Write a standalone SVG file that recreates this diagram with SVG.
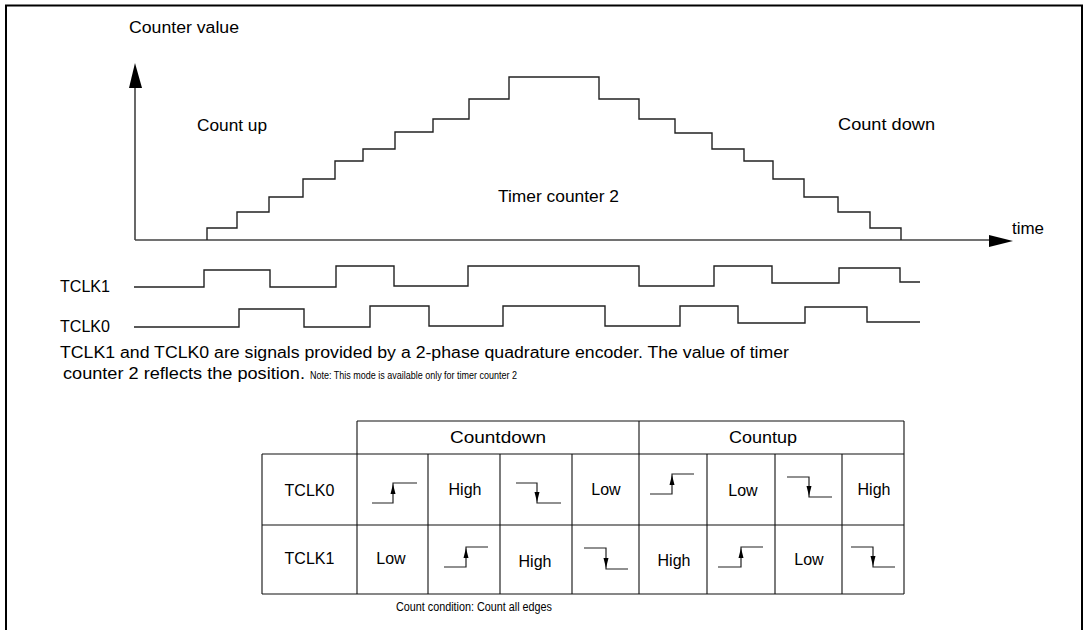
<svg xmlns="http://www.w3.org/2000/svg" width="1089" height="630" viewBox="0 0 1089 630">
<style>
text{font-family:"Liberation Sans",Arial,sans-serif;fill:#000}
.t{font-size:16px}
.c{font-size:16px;text-anchor:middle}
.w{fill:none;stroke:#222;stroke-width:1.4}
.g{fill:none;stroke:#222;stroke-width:1.2}
.ax{fill:none;stroke:#444;stroke-width:1.6}
.tb{fill:none;stroke:#111;stroke-width:1.1}
.ah{fill:#000;stroke:none}
</style>
<rect width="1089" height="630" fill="#fff"/>
<path d="M6,632 V5.5 H1082 V632" fill="none" stroke="#000" stroke-width="2"/>

<g id="chart">
<g id="axes">
<path class="ax" d="M135,240 V80 M135,240 H995"/>
<polygon class="ah" points="135,63 129,88 142,88"/>
<polygon class="ah" points="1013,241 989,235 989,247"/>
</g>
<text class="t" x="129" y="33" textLength="110" lengthAdjust="spacingAndGlyphs">Counter value</text>
<text class="t" x="197" y="131" textLength="70" lengthAdjust="spacingAndGlyphs">Count up</text>
<text class="t" x="498" y="202" textLength="121" lengthAdjust="spacingAndGlyphs">Timer counter 2</text>
<text class="t" x="838" y="130" textLength="97" lengthAdjust="spacingAndGlyphs">Count down</text>
<text class="t" x="1012" y="234" textLength="32" lengthAdjust="spacingAndGlyphs">time</text>
<path id="staircase" class="w" d="M207,240 V228 H237 V212 H269 V197 H303 V179 H335 V161 H363 V149 H395 V132 H433 V119 H469 V99 H509 V77 H599 V99 H639 V119 H675 V133 H712 V149 H744 V161 H773 V179 H804 V197 H838 V212 H870 V228 H901 V240"/>
</g>

<g id="signals">
<text class="t" x="60" y="292" textLength="50" lengthAdjust="spacingAndGlyphs">TCLK1</text>
<text class="t" x="60" y="332" textLength="50" lengthAdjust="spacingAndGlyphs">TCLK0</text>
<path class="w" d="M134,287 H204 V270 H270 V287 H336 V266 H394 V286 H468 V266 H639 V286 H714 V266 H772 V283 H839 V268 H900 V282 H920"/>
<path class="w" d="M134,327 H239 V309 H304 V327 H370 V306 H429 V326 H503 V306 H605 V326 H680 V306 H738 V323 H805 V307 H867 V322 H920"/>
</g>

<g id="description">
<text class="t" x="60" y="358" textLength="729" lengthAdjust="spacingAndGlyphs">TCLK1 and TCLK0 are signals provided by a 2-phase quadrature encoder. The value of timer</text>
<text x="63" y="379" font-size="17" textLength="242" lengthAdjust="spacingAndGlyphs">counter 2 reflects the position.</text>
<text x="310" y="379" font-size="10" textLength="207" lengthAdjust="spacingAndGlyphs">Note: This mode is available only for timer counter 2</text>
</g>

<g id="table">
<path class="tb" d="M357,421 H904 M262,454 H904 M262,525 H904 M262,594 H904 M262,454 V594 M357,421 V594 M639,421 V594 M904,421 V594 M428,454 V594 M500,454 V594 M572,454 V594 M707,454 V594 M775,454 V594 M842,454 V594"/>
<text class="c" x="498" y="443" textLength="96" lengthAdjust="spacingAndGlyphs">Countdown</text>
<text class="c" x="763" y="443" textLength="68" lengthAdjust="spacingAndGlyphs">Countup</text>
<text class="c" x="309.5" y="496">TCLK0</text>
<text class="c" x="309.5" y="564">TCLK1</text>
<text class="c" x="465" y="495">High</text>
<text class="c" x="606" y="495">Low</text>
<text class="c" x="743" y="496">Low</text>
<text class="c" x="874" y="495">High</text>
<text class="c" x="391" y="564">Low</text>
<text class="c" x="535" y="567">High</text>
<text class="c" x="674" y="566">High</text>
<text class="c" x="809" y="565">Low</text>
<g id="edges">
<path class="g" d="M372,503 H393 V483 H417"/>
<polygon class="ah" points="393,484 390.5,494 395.5,494"/>
<path class="g" d="M516,483 H537 V503 H561"/>
<polygon class="ah" points="537,502 534.5,492 539.5,492"/>
<path class="g" d="M650,494 H672 V474 H694"/>
<polygon class="ah" points="672,475 669.5,485 674.5,485"/>
<path class="g" d="M787,477 H809 V497 H832"/>
<polygon class="ah" points="809,496 806.5,486 811.5,486"/>
<path class="g" d="M444,567 H466 V547 H488"/>
<polygon class="ah" points="466,548 463.5,558 468.5,558"/>
<path class="g" d="M584,548 H606 V569 H628"/>
<polygon class="ah" points="606,568 603.5,558 608.5,558"/>
<path class="g" d="M718,567 H741 V547 H763"/>
<polygon class="ah" points="741,548 738.5,558 743.5,558"/>
<path class="g" d="M851,547 H873 V567 H895"/>
<polygon class="ah" points="873,566 870.5,556 875.5,556"/>
</g>
<text x="396" y="611" font-size="12" textLength="156" lengthAdjust="spacingAndGlyphs">Count condition: Count all edges</text>
</g>
</svg>
